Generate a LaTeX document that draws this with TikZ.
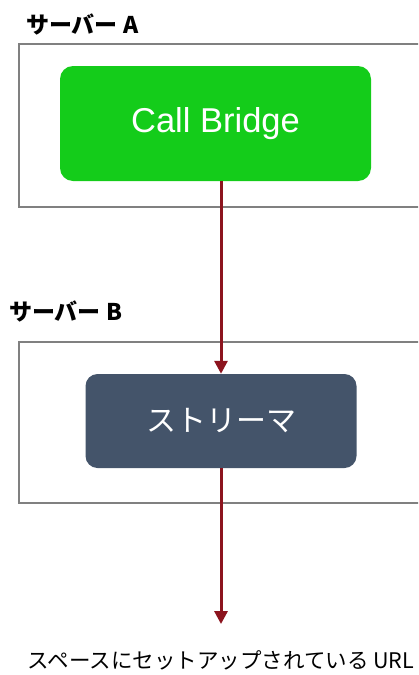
\documentclass[tikz,border=0pt]{standalone}
\usepackage{fontspec}
\setmainfont{Liberation Sans}
\newfontfamily\cjk{Noto Sans CJK JP}
\usetikzlibrary{arrows.meta,positioning}

\begin{document}
\begin{tikzpicture}[x=1pt,y=-1pt]
\colorlet{box edge}{black!50}
\definecolor{bridge green}{RGB}{20,204,26}
\definecolor{streamer blue}{RGB}{68,84,106}
\definecolor{link red}{RGB}{140,20,30}
\tikzset{
     server/.style={draw=box edge, line width=2pt, inner sep=0pt, anchor=north west},
     servername/.style={font=\cjk\bfseries\fontsize{23}{23}\selectfont, inner sep=0pt, anchor=west},
     component/.style={rounded corners=13pt, text=white, inner sep=0pt},
     link/.style={draw=link red, line width=3pt, -{Triangle[width=13pt,length=13pt]}}}

\clip (0,0) rectangle (418,675);

% The servers
\node (serverA) [server, minimum width=410, minimum height=163] at (18,43) {};
\node (serverB) [server, minimum width=410, minimum height=161] at (18,341) {};

\node (nameA) [servername] at (26,24) {サーバー A};
\node (nameB) [servername] at (9,311) {サーバー B};

% The components
\node (callbridge) [component, fill=bridge green, minimum width=311, minimum height=115,
      font=\fontsize{34.5}{34.5}\selectfont] at (215.5,123.5) {Call Bridge};
\node (streamer) [component, fill=streamer blue, minimum width=271, minimum height=94,
      rounded corners=12pt, font=\cjk\fontsize{30}{30}\selectfont] at (221,421) {ストリーマ};

% The target
\node (url) [font=\cjk\fontsize{21.5}{21.5}\selectfont, inner sep=0pt] at (221,660) {スペースにセットアップされている URL};

% The links
\draw [link] (callbridge.south -| streamer.north) -- (streamer.north);
\draw [link, shorten >=26pt] (streamer.south) -- (streamer.south |- url.north);
\end{tikzpicture}
\end{document}
